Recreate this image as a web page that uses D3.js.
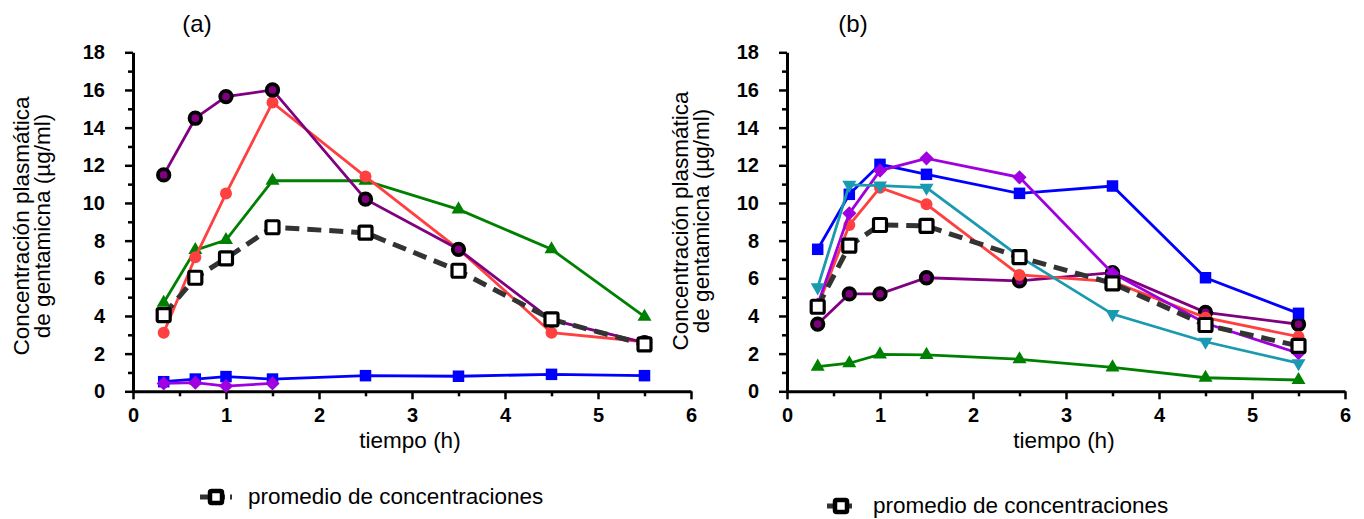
<!DOCTYPE html>
<html>
<head>
<meta charset="utf-8">
<script src="https://cdn.jsdelivr.net/npm/d3@7"></script>
<style>
  html, body { margin: 0; padding: 0; background: #fff; }
  svg { display: block; font-family: "Liberation Sans", Arial, sans-serif; }
</style>
</head>
<body>
<svg id="chart" width="1364" height="519"></svg>
<script>
// Sampling times (h)
const times = [0.33, 0.67, 1, 1.5, 2.5, 3.5, 4.5, 5.5];

// Panel (a): plasma concentrations (µg/ml)
const aBlue   = [0.51, 0.65, 0.78, 0.65, 0.83, 0.80, 0.90, 0.83];
const aViolet = [0.42, 0.46, 0.28, 0.42];
const aGreen  = [4.70, 7.50, 8.03, 11.18, 11.18, 9.66, 7.54, 3.96];
const aRed    = [3.11, 7.12, 10.50, 15.33, 11.40, 7.55, 3.11, 2.63];
const aPurple = [11.49, 14.50, 15.65, 16.00, 10.20, 7.54, 3.79, 2.58];
const aMean   = [4.05, 6.03, 7.06, 8.71, 8.42, 6.40, 3.82, 2.49];

// Panel (b): plasma concentrations (µg/ml)
const bGreen  = [1.31, 1.49, 1.96, 1.93, 1.70, 1.27, 0.72, 0.60];
const bPurple = [3.57, 5.17, 5.17, 6.03, 5.86, 6.30, 4.19, 3.56];
const bRed    = [4.50, 8.83, 10.81, 9.93, 6.18, 5.82, 3.91, 2.90];
const bBlue   = [7.54, 10.46, 12.05, 11.52, 10.51, 10.90, 6.03, 4.14];
const bViolet = [4.60, 9.45, 11.72, 12.37, 11.36, 6.27, 3.61, 2.02];
const bCyan   = [5.52, 10.96, 10.92, 10.81, 7.15, 4.10, 2.63, 1.49];
const bMean   = [4.49, 7.73, 8.83, 8.78, 7.12, 5.73, 3.52, 2.41];

// Axis ticks
const xMajor = [0, 1, 2, 3, 4, 5, 6];
const xMinor = [0.5, 1.5, 2.5, 3.5, 4.5, 5.5];
const yMajor = [0, 2, 4, 6, 8, 10, 12, 14, 16, 18];
const yMinor = [1, 3, 5, 7, 9, 11, 13, 15, 17];

const titles = ["(a)", "(b)"];
const yLabel = ["Concentración plasmática", "de gentamicna (µg/ml)"];
const xLabel = "tiempo (h)";
const legendText = "promedio de concentraciones";

// Marker styles
const styles = {
  blue:   { color: "#0000ff", symbol: "square",   size: 11.5 },
  violet: { color: "#a000e0", symbol: "diamond",  size: 10 },
  green:  { color: "#008000", symbol: "triangle", size: 14 },
  red:    { color: "#ff4040", symbol: "circle",   size: 12 },
  purple: { color: "#800080", symbol: "ringed",   size: 11.5 },
  cyan:   { color: "#1a9ab0", symbol: "triDown",  size: 14 },
};

const FONT = "Liberation Sans, Arial, sans-serif";
const svg = d3.select("#chart");

function symbolPath(kind, s) {
  if (kind === "square" || kind === "diamond") return d3.symbol(d3.symbolSquare, s * s)();
  if (kind === "triangle" || kind === "triDown") return d3.symbol(d3.symbolTriangle, s * s * Math.sqrt(3) / 4)();
  return d3.symbol(d3.symbolCircle, Math.PI * (s / 2) * (s / 2))();
}

function panel(opts) {
  const x = d3.scaleLinear().domain([0, 6]).range([opts.x0, opts.x0 + 558]);
  const y = d3.scaleLinear().domain([0, 18]).range([391.3, 52.3]);
  const g = svg.append("g");

  // Minor ticks
  g.append("g").attr("transform", `translate(0,${y(0)})`)
    .call(d3.axisBottom(x).tickValues(xMinor).tickSize(5).tickFormat(""))
    .call(a => a.select(".domain").remove())
    .call(a => a.selectAll("line").attr("stroke-width", 2.5));
  g.append("g").attr("transform", `translate(${x(0)},0)`)
    .call(d3.axisLeft(y).tickValues(yMinor).tickSize(5).tickFormat(""))
    .call(a => a.select(".domain").remove())
    .call(a => a.selectAll("line").attr("stroke-width", 2.5));

  // Major ticks with labels
  const xa = g.append("g").attr("transform", `translate(0,${y(0)})`)
    .call(d3.axisBottom(x).tickValues(xMajor).tickSize(8).tickSizeOuter(0).tickPadding(9).tickFormat(d3.format("d")));
  xa.select(".domain").attr("stroke-width", 3);
  xa.selectAll("line").attr("stroke-width", 2.5);
  xa.selectAll("text").attr("font-size", 20).attr("font-weight", "bold").attr("fill", "#000")
    .attr("font-family", FONT);

  const ya = g.append("g").attr("transform", `translate(${x(0)},0)`)
    .call(d3.axisLeft(y).tickValues(yMajor).tickSize(8).tickSizeOuter(0).tickPadding(20).tickFormat(d3.format("d")));
  ya.select(".domain").attr("stroke-width", 3);
  ya.selectAll("line").attr("stroke-width", 2.5);
  ya.selectAll("text").attr("font-size", 20).attr("font-weight", "bold").attr("fill", "#000")
    .attr("font-family", FONT);

  // Title and axis labels
  g.append("text").attr("x", opts.titleX).attr("y", 32).attr("text-anchor", "middle")
    .attr("font-size", 24).text(opts.title);
  g.append("text").attr("x", x(0) + 277).attr("y", 448).attr("text-anchor", "middle")
    .attr("font-size", 22.5).text(xLabel);
  const yl = g.append("text").attr("transform", `translate(${opts.ylx},${opts.yly}) rotate(-90)`)
    .attr("text-anchor", "middle").attr("font-size", 22.5);
  yl.append("tspan").attr("x", 0).attr("y", 0).text(yLabel[0]);
  yl.append("tspan").attr("x", 0).attr("y", 21).text(yLabel[1]);

  const line = d3.line().x((d, i) => x(times[i])).y(d => y(d));

  // Individual series
  opts.series.forEach(([key, vals]) => {
    const st = styles[key];
    const sg = g.append("g");
    sg.append("path").datum(vals).attr("d", line).attr("fill", "none")
      .attr("stroke", st.color).attr("stroke-width", 2.8);
    sg.selectAll("path.m").data(vals).join("path").attr("class", "m")
      .attr("d", symbolPath(st.symbol, st.size))
      .attr("transform", (d, i) => {
        let t = `translate(${x(times[i])},${y(d)})`;
        if (st.symbol === "diamond") t += " rotate(45)";
        if (st.symbol === "triDown") t += " rotate(180)";
        return t;
      })
      .attr("fill", st.color)
      .attr("stroke", st.symbol === "ringed" ? "#000" : "none")
      .attr("stroke-width", st.symbol === "ringed" ? 3.8 : 0);
  });

  // Mean curve
  const mg = g.append("g");
  mg.append("path").datum(opts.mean).attr("d", line).attr("fill", "none")
    .attr("stroke", "#333").attr("stroke-width", 5).attr("stroke-dasharray", "14,8");
  mg.selectAll("rect").data(opts.mean).join("rect")
    .attr("x", (d, i) => x(times[i]) - 6.5).attr("y", d => y(d) - 6.5)
    .attr("width", 13).attr("height", 13).attr("rx", 1.5)
    .attr("fill", "#fff").attr("stroke", "#000").attr("stroke-width", 3.2);

  // Legend
  const lg = g.append("g").attr("transform", `translate(${opts.legX},${opts.legY})`);
  lg.append("line").attr("x1", 0).attr("x2", opts.legW).attr("y1", 0).attr("y2", 0)
    .attr("stroke", "#333").attr("stroke-width", 5).attr("stroke-dasharray", "10,5");
  lg.append("rect").attr("x", opts.legW / 2 - 6).attr("y", -6).attr("width", 12).attr("height", 12).attr("rx", 1.5)
    .attr("fill", "#fff").attr("stroke", "#000").attr("stroke-width", 4.5);
  lg.append("text").attr("x", opts.legTextDx).attr("y", 7).attr("font-size", 22.5).text(legendText);
}

panel({
  x0: 133, title: titles[0], titleX: 197, ylx: 29, yly: 226,
  series: [["blue", aBlue], ["violet", aViolet], ["green", aGreen], ["red", aRed], ["purple", aPurple]],
  mean: aMean, legX: 200, legY: 497, legW: 32, legTextDx: 48
});
panel({
  x0: 787, title: titles[1], titleX: 853, ylx: 688, yly: 221,
  series: [["green", bGreen], ["purple", bPurple], ["red", bRed], ["blue", bBlue], ["violet", bViolet], ["cyan", bCyan]],
  mean: bMean, legX: 827, legY: 506, legW: 28, legTextDx: 46
});
</script>
</body>
</html>
